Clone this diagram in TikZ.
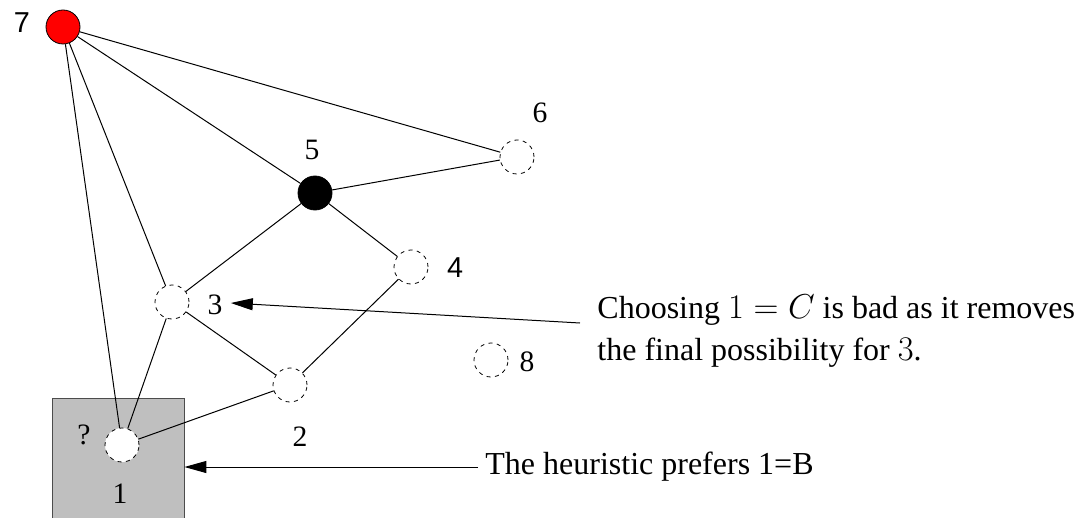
\documentclass[tikz,border=0pt]{standalone}
\usepackage{fontspec}
\setmainfont{Liberation Serif}
\newfontfamily\helv{Liberation Sans}
\usetikzlibrary{arrows.meta}
\definecolor{ink}{gray}{0.0}
\definecolor{boxgray}{gray}{0.75}
\tikzset{
  var/.style={circle, draw=ink, minimum size=17pt, inner sep=0pt},
  open/.style={var, dash pattern=on 2pt off 2.2pt, fill=white},
  taken/.style={var, fill=ink},
  clash/.style={var, fill=red},
  dombox/.style={draw=ink!70, fill=boxgray, minimum width=66pt, minimum height=60pt, inner sep=0pt},
  link/.style={draw=ink, line width=0.5pt},
  pointer/.style={-{Triangle[length=11pt, width=6pt]}, draw=ink, line width=0.5pt},
  num/.style={font=\fontsize{14.8}{17}\selectfont, inner sep=2pt},
  note/.style={font=\fontsize{16}{21}\selectfont, align=left, inner sep=0pt},
}

\begin{document}
\begin{tikzpicture}[x=0.5pt, y=-0.5pt]
  \useasboundingbox (0,0) rectangle (1079,518);
  % domain box of variable 1
  \node[dombox] (dom) at (118,458) {};
  \node[num] (q) at (84,435) {?};
  \node[num] (n1) at (120,494) {1};
  % variables
  \node[clash] (v7) at (63,27) {};
  \node[open] (v6) at (517,157) {};
  \node[taken] (v5) at (315,193) {};
  \node[open] (v4) at (411,267) {};
  \node[open] (v3) at (172,302) {};
  \node[open] (v2) at (290,385) {};
  \node[open] (v8) at (491,360) {};
  \node[open] (v1) at (122,445) {};
  % labels
  \node[num, font=\helv\fontsize{14.4}{17}\selectfont] (l7) at (22,23) {7};
  \node[num] (l6) at (540,113) {6};
  \node[num] (l5) at (312,150) {5};
  \node[num, font=\helv\fontsize{14.4}{17}\selectfont] (l4) at (455,268) {4};
  \node[num] (l3) at (215,305) {3};
  \node[num] (l2) at (300,437) {2};
  \node[num] (l8) at (527,362) {8};
  % constraints
  \draw[link] (v7) -- (v6);
  \draw[link] (v7) -- (v5);
  \draw[link] (v7) -- (v3);
  \draw[link] (v7) -- (v1);
  \draw[link] (v5) -- (v6);
  \draw[link] (v5) -- (v3);
  \draw[link] (v5) -- (v4);
  \draw[link] (v3) -- (v1);
  \draw[link] (v3) -- (v2);
  \draw[link] (v4) -- (v2);
  \draw[link] (v2) -- (v1);
  % remarks
  \node[note, anchor=west] (bad) at (597,331) {Choosing $1=C$ is bad as it removes\\the final possibility for $3$.};
  \node[note, anchor=west] (heur) at (485,467) {The heuristic prefers 1=B};
  \draw[pointer] ([xshift=-8.5pt, yshift=4pt]bad.west) -- ([xshift=2pt, yshift=1pt]l3.east);
  \draw[pointer] ([xshift=-3.5pt]heur.west) -- (heur.west -| dom.east);
\end{tikzpicture}
\end{document}
